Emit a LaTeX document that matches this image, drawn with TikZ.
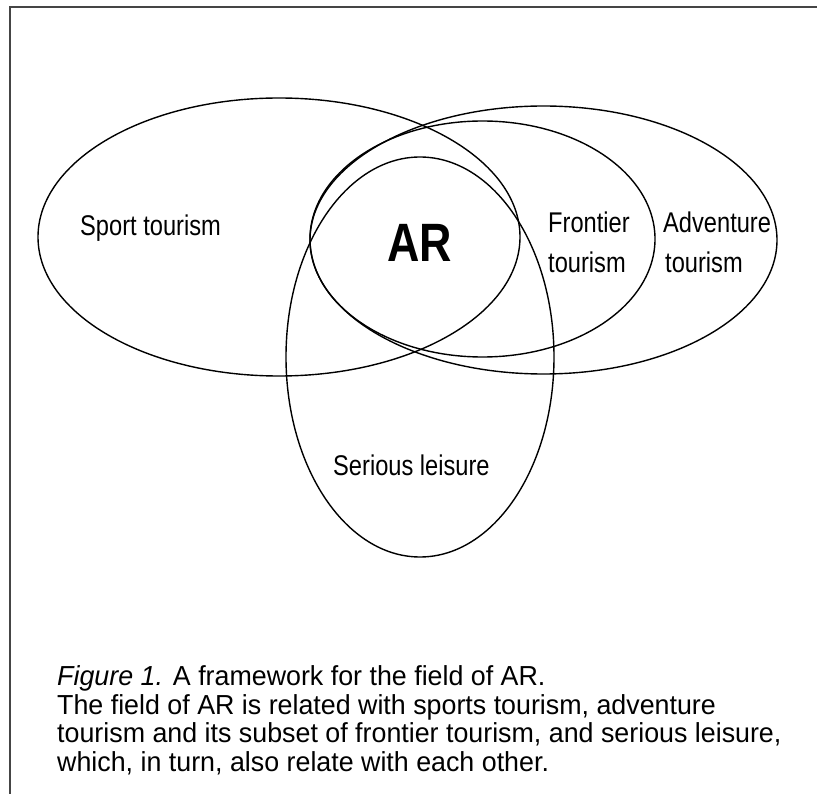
\documentclass[tikz,border=0pt]{standalone}
\usepackage{fontspec}
\setmainfont{Liberation Sans}
\newfontfamily\lblfont[FakeStretch=0.83]{Liberation Sans}
\newfontfamily\capfont[FakeStretch=0.975]{Liberation Sans}
\definecolor{framecol}{HTML}{454545}
\begin{document}
\begin{tikzpicture}[x=1pt,y=-1pt,
  venn/.style={draw=black, line width=1.4pt},
  lbl/.style={inner sep=0pt, anchor=base west, font=\lblfont\fontsize{28.5}{30}\selectfont},
  arlbl/.style={inner sep=0pt, anchor=base, font=\lblfont\bfseries\fontsize{54}{56}\selectfont},
  captext/.style={inner sep=0pt, anchor=base west, font=\capfont\fontsize{27.5}{29}\selectfont}]
\useasboundingbox (0,0) rectangle (817,794);
\fill[white] (0,0) rectangle (817,794);
% frame (top and left only)
\coordinate (fbl) at (10,794);
\coordinate (ftl) at (10,7);
\coordinate (ftr) at (817,7);
\draw[framecol, line width=2.4pt] (fbl) -- (ftl) -- (ftr);
% sets
\draw[venn] (279,237) ellipse [x radius=241pt, y radius=139pt];       % sport tourism
\draw[venn] (482.5,239) ellipse [x radius=172.5pt, y radius=118pt];   % frontier tourism
\draw[venn] (543.5,240) ellipse [x radius=233.5pt, y radius=134pt];   % adventure tourism
\draw[venn] (420,357) ellipse [x radius=134pt, y radius=200pt];       % serious leisure
% labels
\node[lbl] (sport) at (80,236) {Sport tourism};
\node[arlbl] (ar) at (420,262) {AR};
\node[lbl] (front1) at (548,233) {Frontier};
\node[lbl] (front2) at (548,273) {tourism};
\node[lbl] (adv1) at (663,233) {Adventure};
\node[lbl] (adv2) at (665,273) {tourism};
\node[lbl] (serious) at (333,475) {Serious leisure};
% caption
\node[captext] (c1) at (57,685) {\itshape Figure 1.\upshape{} A framework for the field of AR.};
\node[captext] (c2) at (57,714) {The field of AR is related with sports tourism, adventure};
\node[captext] (c3) at (57,742) {tourism and its subset of frontier tourism, and serious leisure,};
\node[captext] (c4) at (57,771) {which, in turn, also relate with each other.};
\end{tikzpicture}
\end{document}
